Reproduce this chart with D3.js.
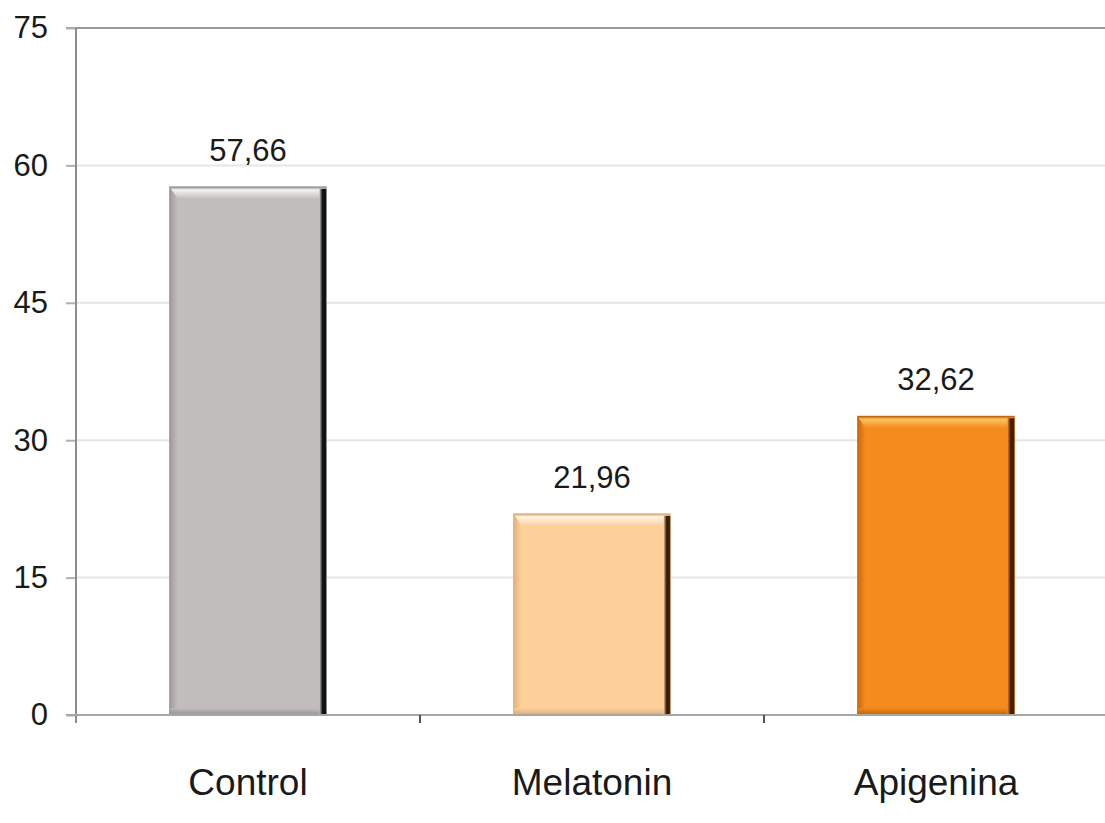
<!DOCTYPE html>
<html>
<head>
<meta charset="utf-8">
<script src="https://cdn.jsdelivr.net/npm/d3@7"></script>
<style>
  html, body { margin: 0; padding: 0; background: #fff; }
  svg { display: block; }
  text { font-family: "Liberation Sans", Arial, sans-serif; fill: #1a1a1a; }
</style>
</head>
<body>
<svg id="chart" width="1105" height="823"></svg>
<script>
// Chart data
const categories = ["Control", "Melatonin", "Apigenina"];
const values = [57.66, 21.96, 32.62];
const valueLabels = ["57,66", "21,96", "32,62"];
const yTicks = [0, 15, 30, 45, 60, 75];

// Bar palette: base, highlight, dark edge
const palette = [
  { base: "#c1bdbc", light: "#f4f2f1", dark: "#111111", shade: "#8f8b8a" },
  { base: "#fdcf9b", light: "#fff5e2", dark: "#3a1e08", shade: "#d9a46e" },
  { base: "#f38b1e", light: "#fdc35c", dark: "#4a1c00", shade: "#b85a08" }
];

const svg = d3.select("#chart");
const plotLeft = 76, plotRight = 1108, plotTop = 28, plotBottom = 715;

const x = d3.scaleBand().domain(categories).range([plotLeft, plotRight])
  .paddingInner(0.544).paddingOuter(0.272);
const xCat = d3.scaleBand().domain(categories).range([plotLeft, plotRight]).padding(0);
const y = d3.scaleLinear().domain([0, 75]).range([plotBottom, plotTop]);

// Gridlines
svg.append("g").selectAll("line").data(yTicks.filter(d => d > 0 && d < 75)).join("line")
  .attr("x1", plotLeft).attr("x2", 1105)
  .attr("y1", d => y(d)).attr("y2", d => y(d))
  .attr("stroke", "#e6e6e6").attr("stroke-width", 2);

// Top border line
svg.append("line").attr("x1", plotLeft - 10).attr("x2", 1105)
  .attr("y1", y(75)).attr("y2", y(75))
  .attr("stroke", "#9a9a9a").attr("stroke-width", 2);

// Y axis
const yAxis = d3.axisLeft(y).tickValues(yTicks).tickSize(10).tickPadding(18)
  .tickFormat(d3.format("d"));
const gy = svg.append("g").attr("transform", `translate(${plotLeft},0)`).call(yAxis);
gy.select(".domain").remove();
gy.selectAll(".tick line").attr("stroke", "#b0b0b0").attr("stroke-width", 2);
gy.selectAll(".tick text").attr("font-size", 31).attr("fill", "#1a1a1a")
  .style("font-family", "'Liberation Sans', Arial, sans-serif");
svg.append("line").attr("x1", plotLeft).attr("x2", plotLeft)
  .attr("y1", plotTop).attr("y2", plotBottom + 8)
  .attr("stroke", "#8c8c8c").attr("stroke-width", 2);

// Gradients for bar bevels
const defs = svg.append("defs");
palette.forEach((p, i) => {
  const gTop = defs.append("linearGradient").attr("id", "top" + i)
    .attr("x1", 0).attr("y1", 0).attr("x2", 0).attr("y2", 1);
  gTop.append("stop").attr("offset", "0%").attr("stop-color", p.shade);
  gTop.append("stop").attr("offset", "25%").attr("stop-color", p.light);
  gTop.append("stop").attr("offset", "100%").attr("stop-color", p.base);
  const gRight = defs.append("linearGradient").attr("id", "right" + i)
    .attr("x1", 0).attr("y1", 0).attr("x2", 1).attr("y2", 0);
  gRight.append("stop").attr("offset", "0%").attr("stop-color", p.base);
  gRight.append("stop").attr("offset", "45%").attr("stop-color", p.dark);
  gRight.append("stop").attr("offset", "100%").attr("stop-color", p.dark);
  const gLeft = defs.append("linearGradient").attr("id", "left" + i)
    .attr("x1", 0).attr("y1", 0).attr("x2", 1).attr("y2", 0);
  gLeft.append("stop").attr("offset", "0%").attr("stop-color", p.shade);
  gLeft.append("stop").attr("offset", "100%").attr("stop-color", p.base);
  const gBot = defs.append("linearGradient").attr("id", "bot" + i)
    .attr("x1", 0).attr("y1", 0).attr("x2", 0).attr("y2", 1);
  gBot.append("stop").attr("offset", "0%").attr("stop-color", p.base);
  gBot.append("stop").attr("offset", "100%").attr("stop-color", p.shade);
});

// Bars with bevelled edges
const bars = svg.append("g").selectAll("g").data(categories).join("g");
bars.each(function(c, i) {
  const g = d3.select(this);
  const x0 = x(c), w = x.bandwidth(), y0 = y(values[i]), h = plotBottom - y0;
  g.append("rect").attr("x", x0).attr("y", y0).attr("width", w).attr("height", h)
    .attr("fill", palette[i].base);
  g.append("rect").attr("x", x0).attr("y", y0).attr("width", 8).attr("height", h)
    .attr("fill", `url(#left${i})`).attr("opacity", 0.7);
  g.append("rect").attr("x", x0).attr("y", plotBottom - 7).attr("width", w).attr("height", 7)
    .attr("fill", `url(#bot${i})`).attr("opacity", 0.8);
  g.append("path")
    .attr("d", `M${x0},${y0} L${x0 + w},${y0} L${x0 + w - 8},${y0 + 12} L${x0 + 8},${y0 + 12} Z`)
    .attr("fill", `url(#top${i})`);
  g.append("rect").attr("x", x0 + w - 7).attr("y", y0 + 2).attr("width", 7).attr("height", h - 2)
    .attr("fill", `url(#right${i})`);
  g.append("rect").attr("x", x0).attr("y", y0).attr("width", w).attr("height", h)
    .attr("fill", "none").attr("stroke", palette[i].shade).attr("stroke-width", 1).attr("opacity", 0.6);
});

// Value labels above bars
svg.append("g").selectAll("text").data(categories).join("text")
  .attr("x", c => x(c) + x.bandwidth() / 2)
  .attr("y", (c, i) => y(values[i]) - 26)
  .attr("text-anchor", "middle")
  .attr("font-size", 31)
  .text((c, i) => valueLabels[i]);

// X axis
svg.append("line").attr("x1", plotLeft - 10).attr("x2", 1105)
  .attr("y1", plotBottom).attr("y2", plotBottom)
  .attr("stroke", "#a6a6a6").attr("stroke-width", 2);
svg.append("g").selectAll("line").data(categories.slice(1)).join("line")
  .attr("x1", c => xCat(c)).attr("x2", c => xCat(c))
  .attr("y1", plotBottom).attr("y2", plotBottom + 8)
  .attr("stroke", "#555").attr("stroke-width", 2);

// Category labels
svg.append("g").selectAll("text").data(categories).join("text")
  .attr("x", c => xCat(c) + xCat.bandwidth() / 2)
  .attr("y", 795)
  .attr("text-anchor", "middle")
  .attr("font-size", 37)
  .attr("fill", "#000")
  .text(c => c);
</script>
</body>
</html>
